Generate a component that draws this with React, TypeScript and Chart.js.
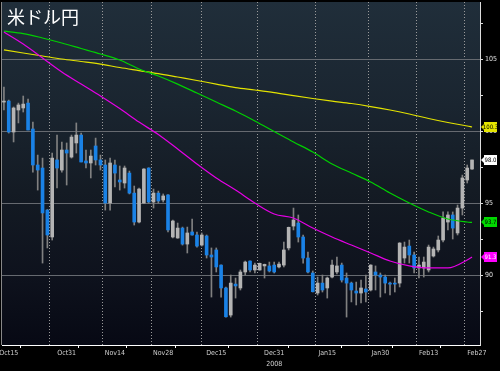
import React, { useEffect, useRef } from 'react';
import { Chart, registerables } from 'chart.js';

Chart.register(...registerables);

const title = '米ドル円';

// daily OHLC (USD/JPY)
const candleOpen = [
  102.01, 102.08, 99.93, 101.46, 101.6, 101.94, 100.14, 97.64, 97.43, 94.51,
  92.64, 97.99, 97.29, 98.68, 98.19, 99.17, 99.72, 97.92, 97.78, 98.96,
  97.99, 97.64, 95.0, 97.64, 96.6, 96.39, 97.08, 95.69, 93.68, 95.0,
  97.43, 95.07, 95.69, 95.21, 95.56, 92.64, 92.57, 93.26, 92.15, 92.99,
  92.78, 92.08, 92.71, 91.39, 91.74, 90.69, 89.1, 87.22, 89.37, 89.1,
  90.21, 90.97, 90.35, 90.35, 90.63, 90.63, 90.69, 90.56, 90.69, 91.88,
  93.4, 93.61, 92.64, 91.18, 90.14, 88.75, 89.44, 89.1, 89.86, 90.21,
  90.69, 89.79, 89.44, 88.89, 88.75, 89.03, 88.96, 90.21, 90.0, 89.86,
  89.44, 89.44, 89.44, 91.18, 92.01, 91.39, 90.49, 90.49, 90.35, 91.32,
  91.74, 92.43, 93.68, 94.17, 92.92, 94.65, 96.6, 97.36,
];
const candleHigh = [
  103.06, 102.15, 101.67, 101.94, 102.43, 102.22, 100.62, 98.33, 98.12, 94.55,
  98.47, 99.72, 99.24, 99.17, 99.72, 100.56, 99.86, 98.68, 98.68, 99.51,
  98.33, 97.99, 98.12, 97.99, 97.57, 97.57, 97.22, 96.18, 96.04, 97.4,
  97.45, 95.97, 95.83, 95.63, 95.58, 93.82, 93.61, 93.33, 93.33, 93.89,
  92.99, 92.92, 92.78, 91.88, 91.88, 90.71, 89.17, 90.0, 89.79, 90.35,
  90.97, 90.99, 90.83, 90.83, 90.76, 90.9, 90.9, 90.9, 92.29, 93.33,
  94.65, 94.17, 92.78, 91.6, 90.28, 89.86, 90.0, 89.86, 91.04, 91.25,
  90.83, 90.14, 89.51, 89.51, 89.65, 90.0, 90.72, 90.63, 90.14, 90.0,
  89.51, 89.79, 92.25, 92.29, 92.43, 91.6, 91.25, 91.25, 92.08, 91.94,
  92.71, 94.38, 94.38, 94.38, 94.86, 96.94, 97.64, 97.99,
];
const candleLow = [
  101.46, 99.86, 99.24, 100.56, 101.32, 100.07, 97.15, 95.9, 90.83, 91.88,
  92.43, 96.04, 97.15, 96.25, 98.12, 98.47, 97.85, 97.43, 96.74, 97.64,
  97.29, 94.51, 94.51, 96.11, 95.9, 96.04, 95.63, 93.47, 93.61, 94.95,
  95.0, 94.65, 95.0, 95.07, 92.99, 92.57, 92.55, 92.08, 91.53, 92.76,
  91.94, 92.01, 91.18, 88.47, 90.21, 88.47, 87.08, 87.08, 88.4, 88.96,
  90.0, 90.21, 90.14, 90.33, 89.79, 90.21, 90.14, 90.49, 90.56, 91.74,
  93.13, 92.29, 90.83, 90.14, 88.82, 88.61, 88.82, 88.4, 89.79, 90.07,
  89.51, 87.08, 88.13, 87.92, 88.06, 88.13, 88.89, 88.96, 88.47, 88.75,
  88.61, 88.82, 89.17, 90.83, 90.83, 90.14, 89.79, 89.86, 90.21, 91.25,
  91.6, 92.29, 93.13, 92.5, 92.78, 94.17, 96.39, 97.34,
];
const candleClose = [
  102.08, 99.93, 101.6, 101.81, 101.87, 100.07, 97.64, 97.29, 94.31, 92.78,
  98.12, 97.43, 98.68, 98.47, 99.58, 99.72, 97.85, 97.78, 98.26, 97.99,
  97.64, 95.0, 97.78, 97.08, 96.46, 97.43, 95.69, 93.68, 95.97, 97.36,
  95.07, 95.69, 95.14, 95.49, 93.13, 93.75, 93.26, 92.15, 92.92, 92.78,
  92.01, 92.78, 91.39, 91.25, 90.56, 89.1, 87.1, 89.44, 89.24, 90.21,
  90.9, 90.35, 90.69, 90.81, 90.74, 90.28, 90.21, 90.76, 91.74, 93.31,
  93.82, 92.64, 91.18, 90.21, 88.84, 89.44, 88.96, 89.79, 90.69, 90.63,
  89.65, 89.44, 88.96, 88.75, 89.1, 88.82, 90.69, 90.0, 89.86, 89.44,
  89.37, 89.37, 92.22, 91.94, 91.39, 90.49, 90.69, 90.9, 91.94, 91.81,
  92.43, 93.96, 94.17, 93.26, 94.65, 96.74, 97.43, 97.99,
];

// moving averages, read every 4 sessions
const maIndex = [0, 4, 8, 12, 16, 20, 24, 28, 32, 36, 40, 44, 48, 52, 56, 60, 64, 68, 72, 76, 80, 84, 88, 92, 96, 97];
const maYellow = [105.63, 105.42, 105.21, 105.0, 104.83, 104.65, 104.41, 104.2, 103.99, 103.75, 103.51, 103.26, 103.02, 102.85, 102.67, 102.46, 102.26, 102.08, 101.91, 101.7, 101.46, 101.18, 100.87, 100.59, 100.35, 100.28];
const maGreen = [106.94, 106.77, 106.46, 106.11, 105.73, 105.35, 104.93, 104.31, 103.82, 103.26, 102.64, 102.01, 101.39, 100.7, 99.97, 99.24, 98.54, 97.71, 97.08, 96.46, 95.69, 95.0, 94.38, 93.89, 93.68, 93.65];
const maMagenta = [106.87, 106.04, 105.07, 104.1, 103.26, 102.43, 101.56, 100.62, 99.76, 98.75, 97.71, 96.74, 95.9, 95.0, 94.24, 93.96, 93.26, 92.64, 92.08, 91.53, 90.97, 90.63, 90.49, 90.49, 91.04, 91.25];

const xTickIndex = [1, 13, 23, 33, 44, 56, 67, 78, 88, 98];
const xTickLabels: (string | string[])[] = ['Oct15', 'Oct31', 'Nov14', 'Nov28', 'Dec15', ['Dec31', '2008'], 'Jan15', 'Jan30', 'Feb13', 'Feb27'];
const xMinorIndex = [6, 18, 28, 38, 49, 62, 73, 83, 93];
const yTickValues = [87.5, 90, 92.5, 95, 97.5, 100, 102.5, 105, 107.5];

const axisFont = "'Liberation Sans Narrow', 'DejaVu Sans Condensed', 'Liberation Sans', sans-serif";

export default function App() {
  const ref = useRef<HTMLCanvasElement>(null);

  useEffect(() => {
    document.body.style.margin = '0';
    const canvas = ref.current;
    if (!canvas) return;
    const n = candleOpen.length;
    const idx = candleOpen.map((_, i) => i);
    const up = idx.map((i) => candleClose[i] >= candleOpen[i]);

    const bgPlugin = {
      id: 'bg',
      beforeDraw(chart: any) {
        const { ctx, chartArea: a, width, height } = chart;
        ctx.save();
        ctx.fillStyle = '#000';
        ctx.fillRect(0, 0, width, height);
        const g = ctx.createLinearGradient(0, a.top, 0, a.bottom);
        g.addColorStop(0, '#202e3a');
        g.addColorStop(0.3, '#1a2530');
        g.addColorStop(0.55, '#141b24');
        g.addColorStop(0.8, '#0e121d');
        g.addColorStop(1, '#070914');
        ctx.fillStyle = g;
        ctx.fillRect(a.left, a.top, a.right - a.left, a.bottom - a.top);
        ctx.strokeStyle = '#888';
        ctx.lineWidth = 1;
        ctx.beginPath();
        ctx.moveTo(a.left - 0.5, a.top);
        ctx.lineTo(a.left - 0.5, a.bottom);
        ctx.stroke();
        ctx.restore();
      },
    };

    const boxPlugin = {
      id: 'valueBoxes',
      afterDraw(chart: any) {
        const { ctx, chartArea: a, scales } = chart;
        const items = [
          { v: maYellow[maYellow.length - 1], fill: '#e6e600', text: '#000' },
          { v: candleClose[n - 1], fill: '#ffffff', text: '#000' },
          { v: maGreen[maGreen.length - 1], fill: '#00d800', text: '#000' },
          { v: maMagenta[maMagenta.length - 1], fill: '#ff00ff', text: '#fff' },
        ];
        ctx.save();
        for (const it of items) {
          const y = Math.round(scales.y.getPixelForValue(it.v));
          const x0 = a.right + 1;
          ctx.fillStyle = it.fill;
          ctx.beginPath();
          ctx.moveTo(x0, y);
          ctx.lineTo(x0 + 3, y - 3);
          ctx.lineTo(x0 + 3, y + 3);
          ctx.closePath();
          ctx.fill();
          ctx.fillRect(x0 + 3, y - 5, 13, 10);
          ctx.fillStyle = it.text;
          ctx.font = `6px ${axisFont}`;
          ctx.textAlign = 'center';
          ctx.textBaseline = 'middle';
          ctx.fillText(it.v.toFixed(1), x0 + 9.5, y + 0.5);
        }
        ctx.restore();
      },
    };

    const lineDs = (label: string, vals: number[], color: string) => ({
      type: 'line' as const,
      label,
      data: maIndex.map((x, k) => ({ x, y: vals[k] })),
      borderColor: color,
      borderWidth: 1.2,
      pointRadius: 0,
      cubicInterpolationMode: 'monotone' as const,
      fill: false,
    });

    const chart = new Chart(canvas, {
      type: 'bar',
      data: {
        datasets: [
          lineDs('MA short', maMagenta, '#e600e6'),
          lineDs('MA mid', maGreen, '#00d000'),
          lineDs('MA long', maYellow, '#e2e200'),
          {
            type: 'bar',
            label: 'body',
            data: idx.map((i) => ({ x: i, y: [candleOpen[i], candleClose[i]] })) as any,
            backgroundColor: idx.map((i) => (up[i] ? '#b4b4b4' : '#1a82e6')),
            barThickness: 3,
            minBarLength: 1,
            grouped: false,
          } as any,
          {
            type: 'bar',
            label: 'wick',
            data: idx.map((i) => ({ x: i, y: [candleLow[i], candleHigh[i]] })) as any,
            backgroundColor: '#808080',
            barThickness: 1,
            grouped: false,
          } as any,
        ],
      },
      options: {
        responsive: false,
        animation: false,
        devicePixelRatio: 1,
        layout: { padding: { top: 2, left: 2, right: 0, bottom: 0 } },
        plugins: { legend: { display: false }, tooltip: { enabled: false }, title: { display: false } },
        scales: {
          x: {
            type: 'linear',
            min: -0.4,
            max: 98.65,
            offset: false,
            afterBuildTicks: (s: any) => {
              s.ticks = [...xTickIndex, ...xMinorIndex].sort((p, q) => p - q).map((v) => ({ value: v }));
            },
            afterFit: (s: any) => {
              s.height = 26;
              s.paddingLeft = 0;
              s.paddingRight = 0;
            },
            ticks: {
              autoSkip: false,
              maxRotation: 0,
              minRotation: 0,
              padding: 0,
              color: '#d0d0d0',
              font: { family: axisFont, size: 7, lineHeight: 1.55 },
              callback: (v: any) => {
                const k = xTickIndex.indexOf(Number(v));
                return k >= 0 ? xTickLabels[k] : '';
              },
            },
            grid: {
              color: (c: any) => (c.tick && xTickIndex.includes(c.tick.value) ? '#9a9a9a' : 'rgba(0,0,0,0)'),
              tickColor: (c: any) => (c.tick && xTickIndex.includes(c.tick.value) ? 'rgba(0,0,0,0)' : '#ffffff'),
              tickLength: 3,
              lineWidth: 1,
            },
            border: { color: '#ffffff', width: 1, dash: [1, 2] },
          },
          y: {
            type: 'linear',
            position: 'right',
            min: 85.14,
            max: 108.96,
            afterBuildTicks: (s: any) => {
              s.ticks = yTickValues.map((v) => ({ value: v }));
            },
            afterFit: (s: any) => {
              s.width = 20;
              s.paddingTop = 0;
              s.paddingBottom = 0;
            },
            ticks: {
              padding: 2,
              color: '#e0e0e0',
              font: { family: axisFont, size: 7 },
              callback: (v: any) => (Number(v) % 5 === 0 ? String(v) : ''),
            },
            grid: {
              color: (c: any) => (c.tick && c.tick.value % 5 === 0 ? '#666a70' : 'rgba(0,0,0,0)'),
              tickColor: '#dddddd',
              tickLength: 3,
              lineWidth: 1,
            },
            border: { color: '#dddddd', width: 1 },
          },
        },
      },
      plugins: [bgPlugin, boxPlugin],
    } as any);

    return () => chart.destroy();
  }, []);

  return (
    <div style={{ position: 'relative', width: 500, height: 371, background: '#000' }}>
      <canvas ref={ref} width={500} height={371} style={{ display: 'block', width: 500, height: 371 }} />
      <div
        style={{
          position: 'absolute',
          left: 7,
          top: 7,
          color: '#ffffff',
          fontSize: 18,
          lineHeight: 1,
          fontFamily: '"Noto Sans CJK JP", sans-serif',
          pointerEvents: 'none',
        }}
      >
        {title}
      </div>
    </div>
  );
}
